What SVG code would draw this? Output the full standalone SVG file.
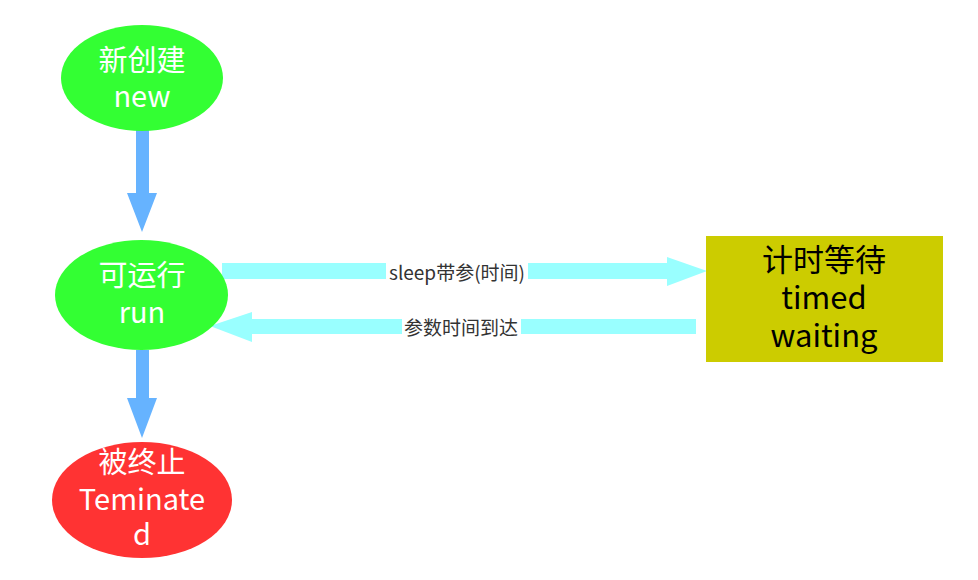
<svg xmlns="http://www.w3.org/2000/svg" width="978" height="580" viewBox="0 0 978 580">
<style>
.nt{font-family:"Noto Sans CJK SC","Noto Sans",sans-serif;font-size:29px;fill:#ffffff;text-anchor:middle}
.bt{font-family:"Noto Sans CJK SC","Noto Sans",sans-serif;font-size:31px;fill:#000000;text-anchor:middle}
.lb{font-family:"Noto Sans CJK SC","Noto Sans",sans-serif;font-size:19px;fill:#333333;text-anchor:middle;dominant-baseline:central}
.va{fill:#66B3FF}
.ha{fill:#99FFFF}
</style>
<rect width="978" height="580" fill="#ffffff"/>
<g id="connectors">
  <g id="new-run"><path class="va" d="M136,130 H149 V193 H157 L142,232 L127,193 H136 Z"/></g>
  <g id="run-terminated"><path class="va" d="M136,350 H149 V398 H157 L142,438 L127,398 H136 Z"/></g>
  <g id="run-timed">
    <path class="ha" d="M222,263 H667 V257 L707,271 L667,286 V279 H222 Z"/>
    <rect x="386" y="261" width="142" height="20" fill="#ffffff"/>
    <text class="lb" x="457" y="271">sleep带参(时间)</text>
  </g>
  <g id="timed-run">
    <path class="ha" d="M696,319 H252 V312 L210,326 L252,342 V334 H696 Z"/>
    <rect x="402" y="316" width="119" height="20" fill="#ffffff"/>
    <text class="lb" x="461" y="326">参数时间到达</text>
  </g>
</g>
<g id="node-new">
  <ellipse cx="142" cy="78" rx="81" ry="53" fill="#33FF33"/>
  <text class="nt" x="142" y="71">新创建</text>
  <text class="nt" x="142" y="107">new</text>
</g>
<g id="node-run">
  <ellipse cx="141.5" cy="295" rx="86.5" ry="55" fill="#33FF33"/>
  <text class="nt" x="142" y="286">可运行</text>
  <text class="nt" x="142" y="323">run</text>
</g>
<g id="node-terminated">
  <ellipse cx="142" cy="500" rx="90" ry="58" fill="#FF3333"/>
  <text class="nt" x="142" y="473">被终止</text>
  <text class="nt" x="142" y="510">Teminate</text>
  <text class="nt" x="142" y="545">d</text>
</g>
<g id="node-timed">
  <rect x="706" y="236" width="237" height="126" fill="#CCCC00"/>
  <text class="bt" x="824" y="271">计时等待</text>
  <text class="bt" x="824" y="309">timed</text>
  <text class="bt" x="824" y="347">waiting</text>
</g>
</svg>
